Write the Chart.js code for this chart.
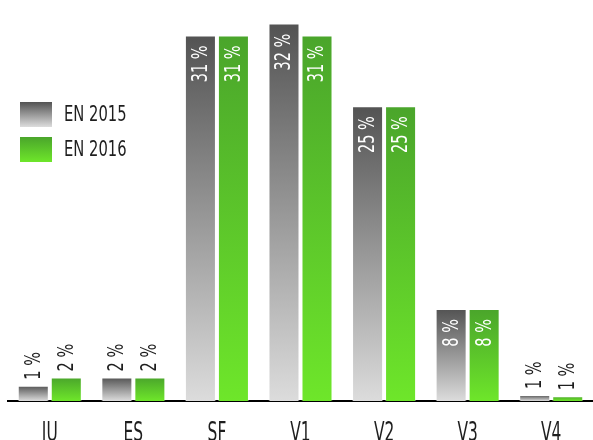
<!DOCTYPE html>
<html>
<head>
<meta charset="utf-8">
<script src="https://cdn.jsdelivr.net/npm/chart.js@4.4.1/dist/chart.umd.min.js"></script>
<style>
  html, body { margin: 0; padding: 0; background: #fff; width: 593px; height: 440px; overflow: hidden; }
  #wrap { position: relative; width: 593px; height: 460px; }
</style>
</head>
<body>
<div id="wrap"><canvas id="chart"></canvas></div>
<script>
// data
const categories = ['JU', 'ES', 'SF', 'V1', 'V2', 'V3', 'V4'];
const seriesNames = ['EN 2015', 'EN 2016'];
const values2015 = [1.3, 2.0, 31.0, 32.0, 25.0, 7.8, 0.5];
const values2016 = [2.0, 2.0, 31.0, 31.0, 25.0, 7.8, 0.4];
const labels2015 = ['1 %', '2 %', '31 %', '32 %', '25 %', '8 %', '1 %'];
const labels2016 = ['2 %', '2 %', '31 %', '31 %', '25 %', '8 %', '1 %'];

const FONT = "'DejaVu Sans Condensed', 'DejaVu Sans', sans-serif";
const grayStops = ['#535353', '#dcdcdc'];
const greenStops = ['#4aa52b', '#6ee62a'];

// the reference uses a very narrow face, so squeeze text horizontally
function narrowText(ctx, text, sx) {
    ctx.save();
    ctx.scale(sx, 1);
    ctx.fillText(text, 0, 0);
    ctx.restore();
}

// gradient from the top of each bar down to the axis
function barGradient(stops) {
    return function (context) {
        const chart = context.chart;
        if (!chart.chartArea || !chart.scales.y) return stops[0];
        const y = chart.scales.y;
        const top = y.getPixelForValue(context.raw);
        const bottom = y.getPixelForValue(0);
        if (!isFinite(top) || bottom - top < 1) return stops[0];
        const g = chart.ctx.createLinearGradient(0, top, 0, bottom);
        g.addColorStop(0, stops[0]);
        g.addColorStop(1, stops[1]);
        return g;
    };
}

const valueLabels = {
    id: 'valueLabels',
    afterDatasetsDraw(chart) {
        const ctx = chart.ctx;
        const texts = [labels2015, labels2016];
        ctx.save();
        ctx.font = '21px ' + FONT;
        ctx.textBaseline = 'middle';
        chart.data.datasets.forEach((ds, di) => {
            chart.getDatasetMeta(di).data.forEach((bar, i) => {
                const inside = ds.data[i] >= 5;
                ctx.save();
                if (inside) {
                    ctx.translate(bar.x + 1, bar.y + 10);
                    ctx.rotate(-Math.PI / 2);
                    ctx.textAlign = 'right';
                    ctx.fillStyle = '#ffffff';
                } else {
                    ctx.translate(bar.x + 1, bar.y - 6);
                    ctx.rotate(-Math.PI / 2);
                    ctx.textAlign = 'left';
                    ctx.fillStyle = '#1e1e1e';
                }
                narrowText(ctx, texts[di][i], 0.77);
                ctx.restore();
            });
        });
        ctx.restore();
    }
};

const categoryLabels = {
    id: 'categoryLabels',
    afterDraw(chart) {
        const ctx = chart.ctx;
        const x = chart.scales.x;
        ctx.save();
        ctx.font = '26px ' + FONT;
        ctx.textAlign = 'center';
        ctx.textBaseline = 'alphabetic';
        ctx.fillStyle = '#1e1e1e';
        categories.forEach((c, i) => {
            ctx.save();
            ctx.translate(x.getPixelForTick(i), 441);
            narrowText(ctx, c, 0.66);
            ctx.restore();
        });
        ctx.restore();
    }
};

const sideLegend = {
    id: 'sideLegend',
    afterDraw(chart) {
        const ctx = chart.ctx;
        const stops = [grayStops, greenStops];
        ctx.save();
        ctx.font = '21px ' + FONT;
        ctx.textBaseline = 'middle';
        ctx.textAlign = 'left';
        seriesNames.forEach((name, i) => {
            const top = 102 + i * 35;
            const g = ctx.createLinearGradient(0, top, 0, top + 25);
            g.addColorStop(0, stops[i][0]);
            g.addColorStop(1, stops[i][1]);
            ctx.fillStyle = g;
            ctx.fillRect(20, top, 32, 25);
            ctx.fillStyle = '#1e1e1e';
            ctx.save();
            ctx.translate(64, top + 14);
            narrowText(ctx, name, 0.78);
            ctx.restore();
        });
        ctx.restore();
    }
};

const chart = new Chart(document.getElementById('chart'), {
    type: 'bar',
    data: {
        labels: categories,
        datasets: [{
            label: seriesNames[0],
            data: values2015,
            backgroundColor: barGradient(grayStops),
            borderColor: 'rgba(255,255,255,0.35)',
            borderWidth: 1,
            categoryPercentage: 0.79,
            barPercentage: 0.94
        }, {
            label: seriesNames[1],
            data: values2016,
            backgroundColor: barGradient(greenStops),
            borderColor: 'rgba(255,255,255,0.35)',
            borderWidth: 1,
            categoryPercentage: 0.79,
            barPercentage: 0.94
        }]
    },
    options: {
        responsive: true,
        maintainAspectRatio: false,
        animation: false,
        layout: { padding: { left: 8, right: 0, top: 0, bottom: 0 } },
        plugins: {
            legend: { display: false },
            tooltip: { enabled: false }
        },
        scales: {
            x: {
                grid: { display: false, drawTicks: false },
                border: { display: true, color: '#000', width: 2 },
                ticks: { display: false },
                afterFit(scale) { scale.height = 59; }
            },
            y: {
                display: false,
                min: 0,
                max: 34
            }
        }
    },
    plugins: [valueLabels, categoryLabels, sideLegend]
});
</script>
</body>
</html>
